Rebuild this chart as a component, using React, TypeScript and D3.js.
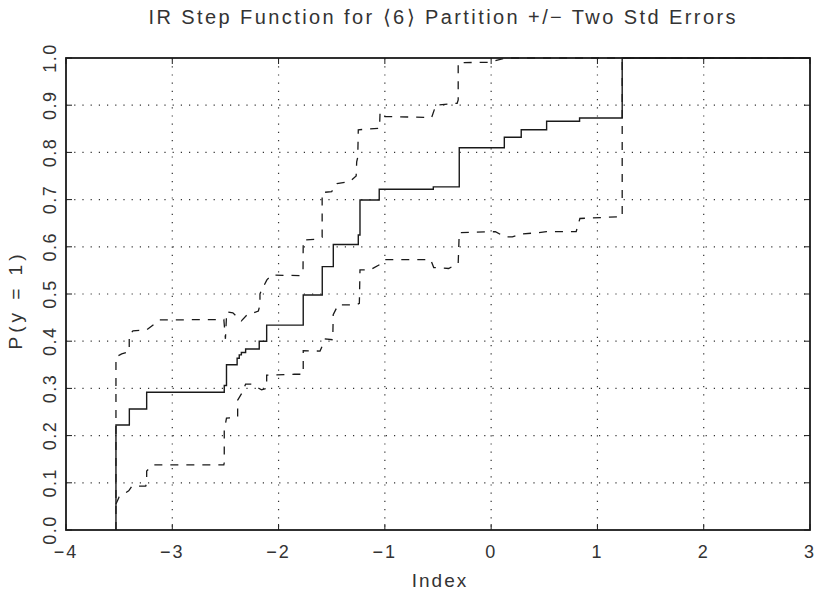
import { useRef, useEffect } from "react";
import * as d3 from "d3";

const W = 827;
const H = 595;
const margin = { top: 58, right: 17, bottom: 65, left: 66 };
const WIDTH = W - margin.left - margin.right;
const HEIGHT = H - margin.top - margin.bottom;

const title = "IR Step Function for \u27E86\u27E9 Partition +/\u2212 Two Std Errors";
const xLabel = "Index";
const yLabel = "P(y = 1)";

const xTicks = [-4, -3, -2, -1, 0, 1, 2, 3];
const yTicks = [0, 0.1, 0.2, 0.3, 0.4, 0.5, 0.6, 0.7, 0.8, 0.9, 1.0];

// isotonic regression step function (value holds from x to the next x)
const stepX = [-3.53, -3.53, -3.404, -3.241, -2.511, -2.49, -2.39, -2.37, -2.35, -2.31, -2.182, -2.112,
  -1.768, -1.589, -1.485, -1.25, -1.234, -1.053, -0.544, -0.3, 0.124, 0.283, 0.522, 0.832, 1.233, 3.0];
const stepY = [0, 0.2225, 0.2564, 0.2917, 0.306, 0.35, 0.364, 0.371, 0.376, 0.3835, 0.4, 0.434,
  0.498, 0.558, 0.605, 0.625, 0.699, 0.722, 0.727, 0.81, 0.832, 0.848, 0.866, 0.873, 1.0, 1.0];

// upper band (+2 se)
const upperX = [-3.53, -3.53, -3.476, -3.405, -3.405, -3.37, -3.24, -3.12, -2.515, -2.50, -2.488, -2.43,
  -2.35, -2.30, -2.19, -2.175, -2.175, -2.16, -2.11, -2.065, -1.80, -1.77, -1.768, -1.66, -1.59, -1.59,
  -1.50, -1.45, -1.33, -1.27, -1.265, -1.255, -1.25, -1.05, -1.045, -1.0, -0.56, -0.52, -0.32, -0.31,
  -0.31, -0.01, 0.02, 0.13, 3.0];
const upperY = [0.0, 0.367, 0.373, 0.378, 0.413, 0.422, 0.424, 0.445, 0.446, 0.405, 0.462, 0.46,
  0.443, 0.455, 0.464, 0.477, 0.5, 0.508, 0.53, 0.54, 0.539, 0.546, 0.614, 0.616, 0.62, 0.715,
  0.717, 0.734, 0.738, 0.75, 0.78, 0.79, 0.848, 0.851, 0.886, 0.876, 0.874, 0.9, 0.904, 0.911,
  0.99, 0.991, 0.993, 1.0, 1.0];

// lower band (-2 se)
const lowerX = [-3.53, -3.50, -3.41, -3.38, -3.25, -3.241, -3.241, -3.18, -2.515, -2.511, -2.511, -2.49,
  -2.39, -2.385, -2.385, -2.345, -2.31, -2.255, -2.16, -2.112, -2.112, -1.85, -1.768, -1.768, -1.61,
  -1.56, -1.49, -1.486, -1.44, -1.27, -1.24, -1.234, -1.14, -1.05, -1.0, -0.57, -0.54, -0.40, -0.31,
  -0.30, 0.04, 0.13, 0.20, 0.28, 0.45, 0.52, 0.80, 0.835, 1.233, 1.233, 3.0];
const lowerY = [0.055, 0.07, 0.083, 0.093, 0.093, 0.10, 0.125, 0.138, 0.138, 0.143, 0.212, 0.237,
  0.239, 0.24, 0.275, 0.29, 0.309, 0.309, 0.297, 0.30, 0.328, 0.33, 0.33, 0.38, 0.379,
  0.405, 0.403, 0.456, 0.477, 0.477, 0.48, 0.551, 0.551, 0.562, 0.573, 0.573, 0.556, 0.554, 0.565,
  0.63, 0.632, 0.621, 0.621, 0.627, 0.63, 0.632, 0.632, 0.66, 0.664, 1.0, 1.0];

const FONT = "'Liberation Sans', Arial, sans-serif";
const INK = "#1a1a1a";
const TEXT = "#333";

function App() {
  const svgRef = useRef<SVGSVGElement | null>(null);

  useEffect(() => {
    const svg = d3.select(svgRef.current);
    svg.selectAll("*").remove();

    const x = d3.scaleLinear().domain([-4, 3]).range([0, WIDTH]);
    const y = d3.scaleLinear().domain([0, 1]).range([HEIGHT, 0]);

    const g = svg.append("g").attr("transform", `translate(${margin.left},${margin.top})`);

    // title
    svg.append("text")
      .attr("x", margin.left + WIDTH / 2 + 4)
      .attr("y", 24)
      .attr("text-anchor", "middle")
      .attr("font-family", FONT)
      .attr("font-size", 20)
      .attr("fill", TEXT)
      .attr("textLength", 587)
      .attr("lengthAdjust", "spacing")
      .text(title);

    // dotted grid
    g.selectAll(".vgrid")
      .data(xTicks.slice(1, -1))
      .join("line")
      .attr("x1", d => x(d)).attr("x2", d => x(d))
      .attr("y1", 0).attr("y2", HEIGHT)
      .attr("stroke", "#333").attr("stroke-width", 1.2)
      .attr("stroke-dasharray", "1.2,7");
    g.selectAll(".hgrid")
      .data(yTicks.slice(1, -1))
      .join("line")
      .attr("x1", 0).attr("x2", WIDTH)
      .attr("y1", d => y(d)).attr("y2", d => y(d))
      .attr("stroke", "#333").attr("stroke-width", 1.2)
      .attr("stroke-dasharray", "1.2,7");

    // inward ticks on all four sides
    const tl = 6;
    g.selectAll(".xtb").data(xTicks).join("line")
      .attr("x1", d => x(d)).attr("x2", d => x(d))
      .attr("y1", HEIGHT).attr("y2", HEIGHT - tl)
      .attr("stroke", INK).attr("stroke-width", 1);
    g.selectAll(".xtt").data(xTicks).join("line")
      .attr("x1", d => x(d)).attr("x2", d => x(d))
      .attr("y1", 0).attr("y2", tl)
      .attr("stroke", INK).attr("stroke-width", 1);
    g.selectAll(".ytl").data(yTicks).join("line")
      .attr("x1", 0).attr("x2", tl)
      .attr("y1", d => y(d)).attr("y2", d => y(d))
      .attr("stroke", INK).attr("stroke-width", 1);
    g.selectAll(".ytr").data(yTicks).join("line")
      .attr("x1", WIDTH).attr("x2", WIDTH - tl)
      .attr("y1", d => y(d)).attr("y2", d => y(d))
      .attr("stroke", INK).attr("stroke-width", 1);

    // tick labels
    const fmtX = d3.format("d");
    g.selectAll(".xl").data(xTicks).join("text")
      .attr("x", d => x(d))
      .attr("y", HEIGHT + 28)
      .attr("text-anchor", "middle")
      .attr("font-family", FONT).attr("font-size", 18).attr("fill", TEXT)
      .attr("letter-spacing", 2)
      .text(d => fmtX(d));
    const fmtY = d3.format(".1f");
    g.selectAll(".yl").data(yTicks).join("text")
      .attr("transform", d => `translate(${-16},${y(d)}) rotate(-90)`)
      .attr("text-anchor", "middle")
      .attr("dy", "0.35em")
      .attr("font-family", FONT).attr("font-size", 18).attr("fill", TEXT)
      .attr("letter-spacing", 1.5)
      .text(d => fmtY(d));

    // axis titles
    g.append("text")
      .attr("x", WIDTH / 2 + 2).attr("y", HEIGHT + 57)
      .attr("text-anchor", "middle")
      .attr("font-family", FONT).attr("font-size", 19).attr("fill", TEXT)
      .attr("letter-spacing", 2)
      .text(xLabel);
    g.append("text")
      .attr("transform", `translate(${-51},${HEIGHT / 2 + 8}) rotate(-90)`)
      .attr("text-anchor", "middle")
      .attr("dy", "0.35em")
      .attr("font-family", FONT).attr("font-size", 19).attr("fill", TEXT)
      .attr("textLength", 95)
      .attr("lengthAdjust", "spacing")
      .text(yLabel);

    // bands and step function
    const lineOf = (xs: number[], ys: number[], curve: d3.CurveFactory) =>
      d3.line<number>()
        .x(i => x(xs[i]))
        .y(i => y(ys[i]))
        .curve(curve)(d3.range(xs.length));

    g.append("path")
      .attr("d", lineOf(upperX, upperY, d3.curveLinear))
      .attr("fill", "none").attr("stroke", INK).attr("stroke-width", 1.3)
      .attr("stroke-dasharray", "8,8");
    g.append("path")
      .attr("d", lineOf(lowerX, lowerY, d3.curveLinear))
      .attr("fill", "none").attr("stroke", INK).attr("stroke-width", 1.3)
      .attr("stroke-dasharray", "8,8");
    g.append("path")
      .attr("d", lineOf(stepX, stepY, d3.curveStepAfter))
      .attr("fill", "none").attr("stroke", INK).attr("stroke-width", 1.4);

    // frame
    g.append("rect")
      .attr("x", 0).attr("y", 0)
      .attr("width", WIDTH).attr("height", HEIGHT)
      .attr("fill", "none").attr("stroke", INK).attr("stroke-width", 1.8);
  }, []);

  return (
    <svg
      ref={svgRef}
      width={W}
      height={H}
      style={{ position: "absolute", left: 0, top: 0, background: "#fff" }}
    />
  );
}

export default App;
